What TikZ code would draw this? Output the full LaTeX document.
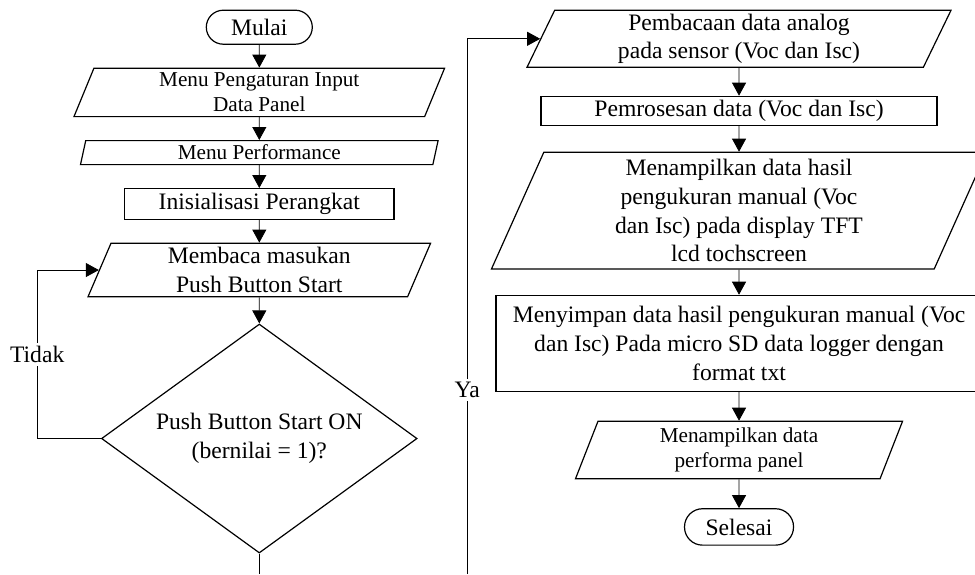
\documentclass[tikz,border=0pt]{standalone}
\usepackage{fontspec}
\setmainfont{Liberation Serif}
\usetikzlibrary{shapes,positioning,arrows.meta}
\newcommand{\mainF}{\fontsize{11.8pt}{14.3pt}\selectfont}
\newcommand{\smallF}{\fontsize{10.6pt}{12.4pt}\selectfont}

\begin{document}
\begin{tikzpicture}
  [x=0.5pt,y=-0.5pt,node distance=11.4pt,
   fcNode/.style={draw,line width=0.6pt,align=center,inner sep=0.5pt,font=\mainF},
   termN/.style={fcNode,rectangle,rounded corners=8.5pt},
   procN/.style={fcNode,rectangle},
   ioN/.style={fcNode,trapezium,trapezium left angle=64,trapezium right angle=116,
               trapezium stretches body},
   decN/.style={fcNode,diamond,aspect=1.38,inner sep=0pt},
   arr/.style={line width=0.4pt,-{Triangle[width=7pt,length=6.5pt]}},
   lbl/.style={fill=white,inner sep=1.5pt,font=\mainF},
  ]
 \useasboundingbox (0,0) rectangle (975,574);

 % kolom kiri
 \node[termN,minimum width=53pt,minimum height=17pt] (mulai) at (259.3,27.2) {Mulai};
 \node[ioN,font=\smallF,minimum width=185.3pt,minimum height=24.2pt] (inp) [below=of mulai]
      {Menu Pengaturan Input\\Data Panel};
 \node[ioN,font=\smallF,trapezium left angle=73,trapezium right angle=107,
       minimum width=178.8pt,minimum height=12pt] (perf) [below=of inp] {Menu Performance};
 \node[procN,minimum width=134.7pt,minimum height=15.3pt] (init) [below=of perf]
      {Inisialisasi Perangkat};
 \node[ioN,minimum width=171.3pt,minimum height=26.8pt] (baca) [below=of init]
      {Membaca masukan\\Push Button Start};
 \node[decN,minimum width=157.8pt,minimum height=114.5pt] (cek) [below=13pt of baca]
      {Push Button Start ON\\(bernilai = 1)?};

 % kolom kanan
 \node[ioN,trapezium left angle=62,trapezium right angle=118,
       minimum width=212pt,minimum height=28.5pt] (analog) at (739,38.8)
      {Pembacaan data analog\\pada sensor (Voc dan Isc)};
 \node[procN,minimum width=198pt,minimum height=14.5pt] (proses) [below=13.9pt of analog]
      {Pemrosesan data (Voc dan Isc)};
 \node[ioN,trapezium left angle=63.4,trapezium right angle=116.6,
       minimum width=247.5pt,minimum height=58.3pt] (tampil) [below=12.9pt of proses]
      {Menampilkan data hasil\\pengukuran manual (Voc\\dan Isc) pada display TFT\\lcd tochscreen};
 \node[procN,minimum width=243pt,minimum height=48pt] (simpan) [below=12.6pt of tampil]
      {Menyimpan data hasil pengukuran manual (Voc\\dan Isc) Pada micro SD data logger dengan\\format txt};
 \node[ioN,font=\smallF,minimum width=163.5pt,minimum height=28.7pt] (perform) [below=14.4pt of simpan]
      {Menampilkan data\\performa panel};
 \node[termN,minimum width=54.5pt,minimum height=18.2pt,rounded corners=9pt] (selesai)
      [below=14.4pt of perform] {Selesai};

 \foreach \a/\b in {mulai/inp,inp/perf,perf/init,init/baca,baca/cek,
                    analog/proses,proses/tampil,tampil/simpan,simpan/perform,perform/selesai}
   \draw[arr] (\a) -- (\b);

 % sambungan antar kolom
 \coordinate (putus) at (259.3,574);
 \coordinate (lanjut) at (467.3,574);
 \draw[line width=0.4pt] (cek.south) -- (putus);
 \draw[arr] (lanjut) |- node[lbl,pos=0.172] (ya) {Ya} (analog.west);
 \draw[arr] (cek.west) -- ++(-63.7,0) |- node[lbl,pos=0.25] (tidak) {Tidak} (baca.west);

\end{tikzpicture}
\end{document}
